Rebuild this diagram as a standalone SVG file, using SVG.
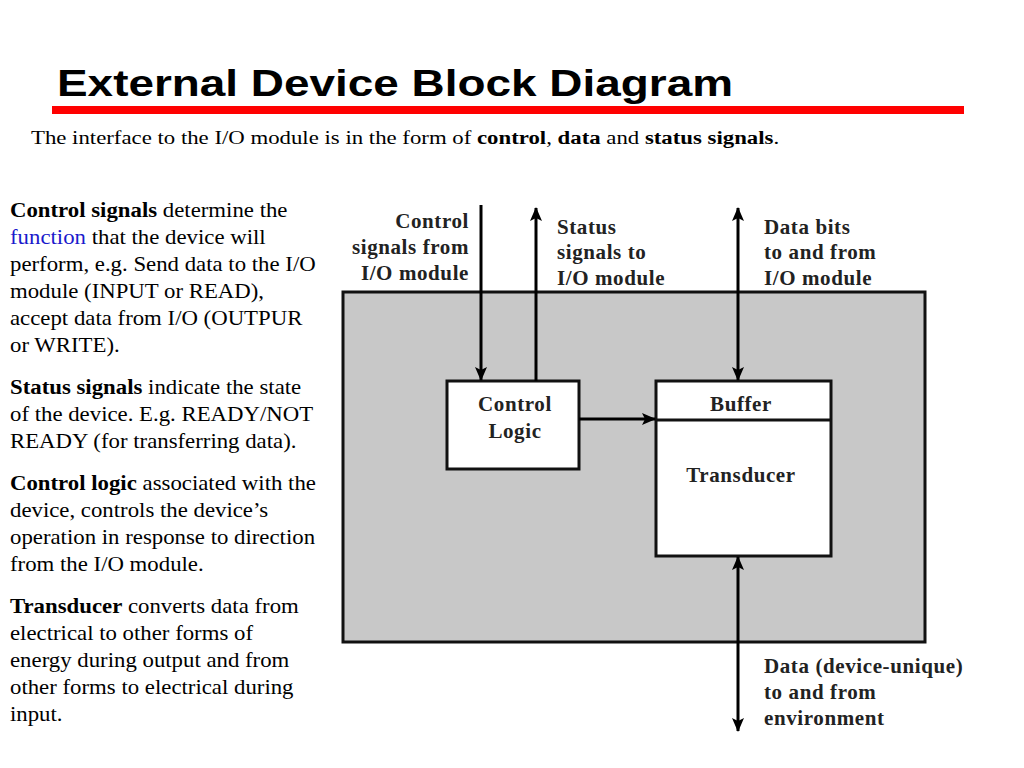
<svg xmlns="http://www.w3.org/2000/svg" width="1024" height="768" viewBox="0 0 1024 768">
<style>
.title{font-family:"Liberation Sans",Arial,sans-serif;font-weight:bold;font-size:37px;fill:#000}
.body{font-family:"Liberation Serif","Times New Roman",serif;font-size:21px;fill:#000}
.sub{font-family:"Liberation Serif","Times New Roman",serif;font-size:19px;fill:#000}
.lbl{font-family:"Liberation Serif","Times New Roman",serif;font-weight:bold;font-size:21px;letter-spacing:0.6px;fill:#222}
.box{fill:#fff;stroke:#111;stroke-width:3}
.wire{stroke:#000;stroke-width:3;fill:none}
</style>
<defs>
<marker id="ah" viewBox="0 0 14 12" refX="13" refY="6" markerWidth="14" markerHeight="12" markerUnits="userSpaceOnUse" orient="auto-start-reverse">
<path d="M0,0 L14,6 L0,12 L3,6 Z" fill="#000"/>
</marker>
</defs>
<rect width="1024" height="768" fill="#fff"/>
<text class="title" x="57" y="96" textLength="676" lengthAdjust="spacingAndGlyphs">External Device Block Diagram</text>
<rect x="52" y="106" width="912" height="8" fill="#ff0000"/>
<g transform="translate(31,144) scale(1.2,1)">
<text class="sub" x="0" y="0">The interface to the I/O module is in the form of <tspan font-weight="bold">control</tspan>, <tspan font-weight="bold">data</tspan> and <tspan font-weight="bold">status signals</tspan>.</text>
</g>
<g id="notes" class="body" transform="translate(10,0) scale(1.086,1)">
<text x="0" y="217"><tspan font-weight="bold">Control signals</tspan> determine the</text>
<text x="0" y="244"><tspan fill="#1a1acc">function</tspan> that the device will</text>
<text x="0" y="271">perform, e.g. Send data to the I/O</text>
<text x="0" y="298">module (INPUT or READ),</text>
<text x="0" y="325">accept data from I/O (OUTPUR</text>
<text x="0" y="352">or WRITE).</text>
<text x="0" y="394"><tspan font-weight="bold">Status signals</tspan> indicate the state</text>
<text x="0" y="421">of the device. E.g. READY/NOT</text>
<text x="0" y="448">READY (for transferring data).</text>
<text x="0" y="490"><tspan font-weight="bold">Control logic</tspan> associated with the</text>
<text x="0" y="517">device, controls the device’s</text>
<text x="0" y="544">operation in response to direction</text>
<text x="0" y="571">from the I/O module.</text>
<text x="0" y="613"><tspan font-weight="bold">Transducer</tspan> converts data from</text>
<text x="0" y="640">electrical to other forms of</text>
<text x="0" y="667">energy during output and from</text>
<text x="0" y="694">other forms to electrical during</text>
<text x="0" y="721">input.</text>
</g>
<g id="device">
<rect x="343" y="292" width="582" height="350" fill="#c8c8c8" stroke="#111" stroke-width="3"/>
</g>
<g id="control-logic">
<rect class="box" x="447" y="381" width="132" height="88"/>
<text class="lbl" x="515" y="411" text-anchor="middle">Control</text>
<text class="lbl" x="515" y="438" text-anchor="middle">Logic</text>
</g>
<g id="buffer-transducer">
<rect class="box" x="656" y="381" width="175" height="175"/>
<line x1="656" y1="420" x2="831" y2="420" stroke="#111" stroke-width="3"/>
<text class="lbl" x="741" y="411" text-anchor="middle">Buffer</text>
<text class="lbl" x="741" y="482" text-anchor="middle">Transducer</text>
</g>
<g id="connectors">
<line class="wire" x1="481" y1="205" x2="481" y2="380" marker-end="url(#ah)"/>
<line class="wire" x1="536" y1="381" x2="536" y2="208" marker-end="url(#ah)"/>
<line class="wire" x1="738" y1="208" x2="738" y2="380" marker-start="url(#ah)" marker-end="url(#ah)"/>
<line class="wire" x1="579" y1="419" x2="655" y2="419" marker-end="url(#ah)"/>
<line class="wire" x1="738" y1="557" x2="738" y2="731" marker-start="url(#ah)" marker-end="url(#ah)"/>
</g>
<g id="labels">
<text class="lbl" x="469" y="228" text-anchor="end">Control</text>
<text class="lbl" x="469" y="254" text-anchor="end">signals from</text>
<text class="lbl" x="469" y="280" text-anchor="end">I/O module</text>
<text class="lbl" x="557" y="234">Status</text>
<text class="lbl" x="557" y="259">signals to</text>
<text class="lbl" x="557" y="285">I/O module</text>
<text class="lbl" x="764" y="234">Data bits</text>
<text class="lbl" x="764" y="259">to and from</text>
<text class="lbl" x="764" y="285">I/O module</text>
<text class="lbl" x="764" y="673">Data (device-unique)</text>
<text class="lbl" x="764" y="699">to and from</text>
<text class="lbl" x="764" y="725">environment</text>
</g>
</svg>
